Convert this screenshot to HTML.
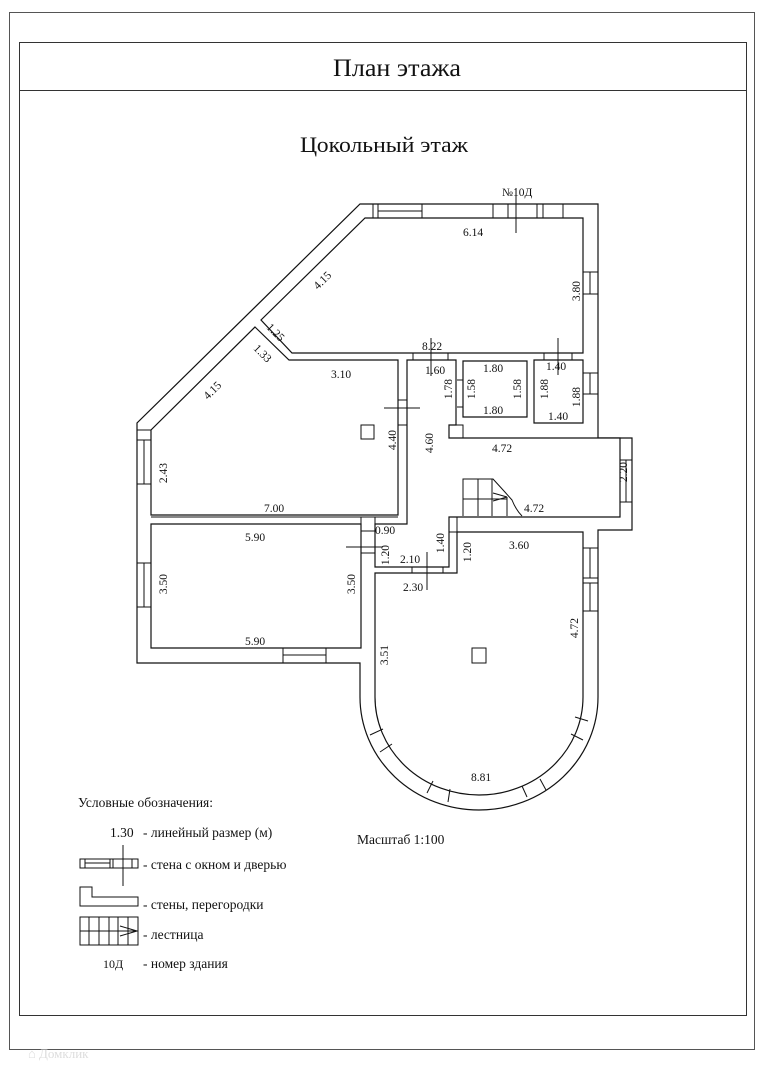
<!DOCTYPE html>
<html><head><meta charset="utf-8"><style>
html,body{margin:0;padding:0;background:#fff}
svg{display:block}
text{font-family:"Liberation Serif",serif;fill:#111}
</style></head><body>
<svg width="763" height="1080" viewBox="0 0 763 1080" xmlns="http://www.w3.org/2000/svg">
<rect x="0" y="0" width="763" height="1080" fill="#fff"/>
<rect x="9.5" y="12.5" width="745" height="1037" fill="none" stroke="#555" stroke-width="1"/>
<rect x="19.5" y="42.5" width="727" height="973" fill="none" stroke="#333" stroke-width="1"/>
<line x1="19.5" y1="90.5" x2="746.5" y2="90.5" stroke="#333"/>
<text x="397" y="76" font-size="25" text-anchor="middle" textLength="128" lengthAdjust="spacingAndGlyphs">План этажа</text>
<text x="384" y="152" font-size="22" text-anchor="middle" textLength="168" lengthAdjust="spacingAndGlyphs">Цокольный этаж</text>

<g fill="#fff" stroke="#111" stroke-width="1.2">
<!-- outer shell -->
<path d="M360,204 L598,204 L598,438 L632,438 L632,530 L598,530 L598,697 A119,113 0 0 1 360,697 L360,663 L137,663 L137,423 Z"/>
<!-- rooms -->
<path d="M365,218 L583,218 L583,353 L292,353 L261,320 Z"/>
<path d="M255,327 L289,360 L398,360 L398,515 L151,515 L151,430 Z"/>
<path d="M151,524 L361,524 L361,648 L151,648 Z"/>
<path d="M407,360 L456,360 L456,425 L449,425 L449,438 L620,438 L620,517 L449,517 L449,567 L375,567 L375,524 L407,524 Z"/>
<path d="M463,361 L527,361 L527,417 L463,417 Z"/>
<path d="M534,360 L583,360 L583,423 L534,423 Z"/>
<path d="M457,532 L583,532 L583,697 A104,98 0 0 1 375,697 L375,573 L457,573 Z"/>
</g>
<g fill="none" stroke="#111" stroke-width="1">
<!-- door/wall gaps details -->
<line x1="137" y1="430" x2="151" y2="430"/>
<line x1="151" y1="517" x2="398" y2="517"/>
<rect x="361" y="517" width="14" height="14"/>
<line x1="361" y1="553" x2="375" y2="553"/>
<line x1="398" y1="400" x2="407" y2="400"/><line x1="398" y1="425" x2="407" y2="425"/>
<rect x="449" y="517" width="8" height="15"/>
<rect x="449" y="425" width="14" height="13"/>
<line x1="413" y1="353" x2="413" y2="360"/><line x1="448" y1="353" x2="448" y2="360"/>
<line x1="544" y1="353" x2="544" y2="360"/><line x1="572" y1="353" x2="572" y2="360"/>
<line x1="457" y1="380" x2="463" y2="380"/><line x1="457" y1="407" x2="463" y2="407"/>
<line x1="412" y1="567" x2="412" y2="573"/><line x1="443" y1="567" x2="443" y2="573"/>
<!-- windows top -->
<rect x="378" y="204" width="44" height="14"/><line x1="378" y1="211" x2="422" y2="211"/>
<line x1="373" y1="204" x2="373" y2="218"/>
<rect x="493" y="204" width="15" height="14"/>
<rect x="537" y="204" width="26" height="14"/><line x1="543" y1="204" x2="543" y2="218"/>
<!-- right wall -->
<rect x="583" y="272" width="15" height="22"/><line x1="590" y1="272" x2="590" y2="294"/>
<rect x="583" y="373" width="15" height="21"/><line x1="590" y1="373" x2="590" y2="394"/>
<rect x="620" y="460" width="12" height="42"/><line x1="626" y1="460" x2="626" y2="502"/>
<rect x="583" y="548" width="15" height="30"/><line x1="590" y1="548" x2="590" y2="578"/>
<rect x="583" y="583" width="15" height="28"/><line x1="590" y1="583" x2="590" y2="611"/>
<!-- left wall -->
<rect x="137" y="440" width="14" height="44"/><line x1="144" y1="440" x2="144" y2="484"/>
<rect x="137" y="563" width="14" height="44"/><line x1="144" y1="563" x2="144" y2="607"/>
<rect x="283" y="648" width="43" height="15"/><line x1="283" y1="655" x2="326" y2="655"/>
<!-- arc windows -->
<line x1="370" y1="735" x2="383" y2="729"/><line x1="380" y1="752" x2="392" y2="744"/>
<line x1="427" y1="793" x2="433" y2="781"/><line x1="448" y1="802" x2="450" y2="789"/>
<line x1="527" y1="797" x2="522" y2="786"/><line x1="546" y1="790" x2="540" y2="779"/>
<line x1="588" y1="721" x2="575" y2="717"/><line x1="583" y1="740" x2="571" y2="734"/>
<!-- dimension marks -->
<line x1="516" y1="188" x2="516" y2="233"/>
<line x1="431" y1="338" x2="431" y2="376"/>
<line x1="558" y1="338" x2="558" y2="375"/>
<line x1="384" y1="408" x2="420" y2="408"/>
<line x1="346" y1="547" x2="383" y2="547"/>
<line x1="427" y1="552" x2="427" y2="590"/>
<!-- squares -->
<rect x="361" y="425" width="13" height="14"/>
<rect x="472" y="648" width="14" height="15"/>
<!-- stairs -->
<path d="M463,516 L463,479 L493,479 Q505,492 512,500 Q516,510 522,516"/>
<line x1="478" y1="479" x2="478" y2="516"/><line x1="492" y1="479" x2="492" y2="516"/>
<line x1="507" y1="497" x2="507" y2="516"/><line x1="463" y1="499" x2="507" y2="499"/>
<line x1="493" y1="493" x2="507" y2="497"/><line x1="493" y1="501" x2="507" y2="497"/>
</g>
<g font-size="11.5">
<text x="502" y="196">№10Д</text>
<text x="463" y="236">6.14</text>
<text x="422" y="350">8.22</text>
<text x="425" y="374">1.60</text>
<text x="483" y="372">1.80</text>
<text x="483" y="414">1.80</text>
<text x="546" y="370">1.40</text>
<text x="548" y="420">1.40</text>
<text x="331" y="378">3.10</text>
<text x="492" y="452">4.72</text>
<text x="524" y="512">4.72</text>
<text x="264" y="512">7.00</text>
<text x="245" y="541">5.90</text>
<text x="245" y="645">5.90</text>
<text x="375" y="534">0.90</text>
<text x="400" y="563">2.10</text>
<text x="403" y="591">2.30</text>
<text x="509" y="549">3.60</text>
<text x="471" y="781">8.81</text>
<text transform="translate(580,291) rotate(-90)" text-anchor="middle">3.80</text>
<text transform="translate(580,397) rotate(-90)" text-anchor="middle">1.88</text>
<text transform="translate(548,389) rotate(-90)" text-anchor="middle">1.88</text>
<text transform="translate(475,389) rotate(-90)" text-anchor="middle">1.58</text>
<text transform="translate(521,389) rotate(-90)" text-anchor="middle">1.58</text>
<text transform="translate(452,389) rotate(-90)" text-anchor="middle">1.78</text>
<text transform="translate(396,440) rotate(-90)" text-anchor="middle">4.40</text>
<text transform="translate(433,443) rotate(-90)" text-anchor="middle">4.60</text>
<text transform="translate(167,473) rotate(-90)" text-anchor="middle">2.43</text>
<text transform="translate(167,584) rotate(-90)" text-anchor="middle">3.50</text>
<text transform="translate(355,584) rotate(-90)" text-anchor="middle">3.50</text>
<text transform="translate(389,555) rotate(-90)" text-anchor="middle">1.20</text>
<text transform="translate(444,543) rotate(-90)" text-anchor="middle">1.40</text>
<text transform="translate(471,552) rotate(-90)" text-anchor="middle">1.20</text>
<text transform="translate(627,472) rotate(-90)" text-anchor="middle">2.20</text>
<text transform="translate(388,655) rotate(-90)" text-anchor="middle">3.51</text>
<text transform="translate(578,628) rotate(-90)" text-anchor="middle">4.72</text>
<text transform="translate(325,283) rotate(-45)" text-anchor="middle">4.15</text>
<text transform="translate(215,393) rotate(-45)" text-anchor="middle">4.15</text>
<text transform="translate(273,335) rotate(45)" text-anchor="middle">1.25</text>
<text transform="translate(260,356) rotate(45)" text-anchor="middle">1.33</text>
</g>
<!-- legend -->
<g font-size="13.5">
<text x="78" y="807">Условные обозначения:</text>
<text x="110" y="837">1.30</text><text x="143" y="837">- линейный размер (м)</text>
<text x="143" y="869">- стена с окном и дверью</text>
<text x="143" y="909">- стены, перегородки</text>
<text x="143" y="939">- лестница</text>
<text x="103" y="968" font-size="12">10Д</text><text x="143" y="968">- номер здания</text>
<text x="357" y="844">Масштаб 1:100</text>
</g>
<g fill="none" stroke="#111" stroke-width="1">
<rect x="80" y="859" width="58" height="9"/>
<line x1="85" y1="859" x2="85" y2="868"/><line x1="85" y1="863" x2="110" y2="863"/>
<line x1="110" y1="859" x2="110" y2="868"/><line x1="113" y1="859" x2="113" y2="868"/>
<line x1="123" y1="845" x2="123" y2="886"/><line x1="132" y1="859" x2="132" y2="868"/>
<path d="M80,887 L92,887 L92,897 L138,897 L138,906 L80,906 Z"/>
<rect x="80" y="917" width="58" height="28"/>
<line x1="80" y1="931" x2="138" y2="931"/>
<line x1="89" y1="917" x2="89" y2="945"/><line x1="99" y1="917" x2="99" y2="945"/>
<line x1="109" y1="917" x2="109" y2="945"/><line x1="118" y1="917" x2="118" y2="945"/>
<line x1="128" y1="917" x2="128" y2="945"/>
<line x1="120" y1="926" x2="137" y2="931"/><line x1="120" y1="936" x2="137" y2="931"/>
</g>
<text x="28" y="1058" font-family="Liberation Sans,sans-serif" font-size="13" fill="#ddd" style="fill:#ddd">⌂ Домклик</text>
</svg>
</body></html>
